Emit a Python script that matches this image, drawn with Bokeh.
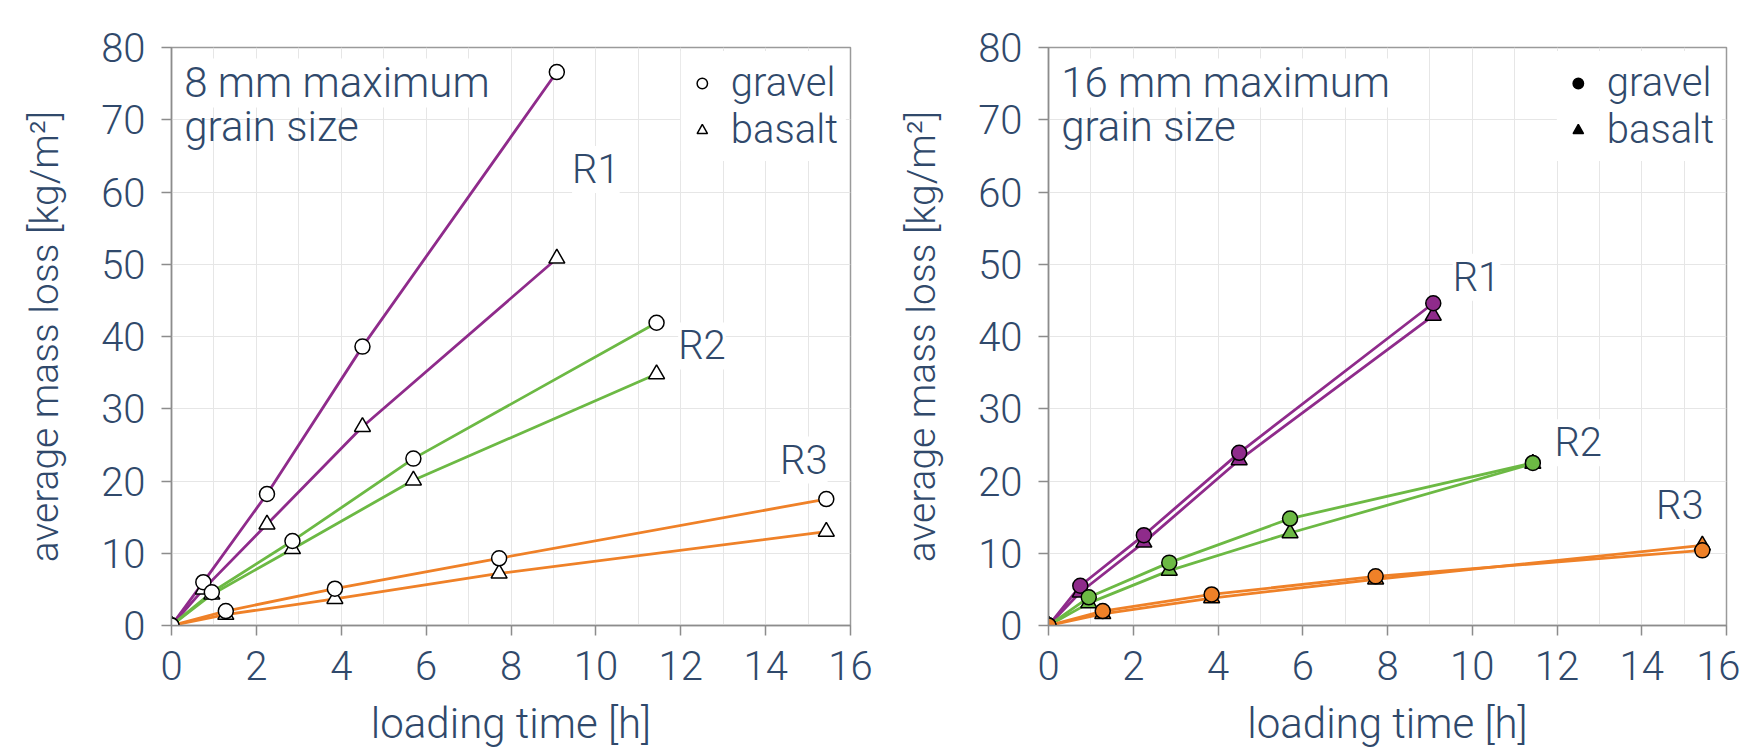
from bokeh.plotting import figure
from bokeh.layouts import row
from bokeh.models import Label, FixedTicker, Range1d, Legend, LegendItem
from bokeh.embed import file_html
from bokeh.resources import INLINE

# ---------------- data ----------------
# loading time [h] per test series
t_R1 = [0, 0.75, 2.25, 4.5, 9.08]
t_R2 = [0, 0.95, 2.85, 5.7, 11.43]
t_R3 = [0, 1.28, 3.85, 7.72, 15.43]

# 8 mm maximum grain size: average mass loss [kg/m2]
g8_R1 = [0, 6.0, 18.2, 38.6, 76.6]
b8_R1 = [0, 5.0, 14.0, 27.5, 50.8]
g8_R2 = [0, 4.6, 11.7, 23.1, 41.9]
b8_R2 = [0, 4.3, 10.6, 20.1, 34.8]
g8_R3 = [0, 2.0, 5.1, 9.3, 17.5]
b8_R3 = [0, 1.5, 3.7, 7.2, 13.0]

# 16 mm maximum grain size
g16_R1 = [0, 5.5, 12.5, 23.9, 44.6]
b16_R1 = [0, 4.6, 11.5, 22.9, 42.9]
g16_R2 = [0, 3.9, 8.7, 14.8, 22.5]
b16_R2 = [0, 3.1, 7.6, 12.8, 22.4]
g16_R3 = [0, 2.0, 4.3, 6.8, 10.4]
b16_R3 = [0, 1.6, 3.8, 6.4, 11.1]

series_names = ["R1", "R2", "R3"]
x_ticks = [0, 2, 4, 6, 8, 10, 12, 14, 16]
y_ticks = [0, 10, 20, 30, 40, 50, 60, 70, 80]

# label positions (data units)
r_label_pos_8 = {"R1": (10.0, 63.1), "R2": (12.5, 38.7), "R3": (14.9, 22.9)}
r_label_pos_16 = {"R1": (10.1, 48.2), "R2": (12.5, 25.3), "R3": (14.9, 16.6)}

# ---------------- style ----------------
FONT = "Roboto Light"
TXT = "#30496b"
COLORS = {"R1": "#8f2b8b", "R2": "#6cb944", "R3": "#ef8128"}
AX = "#8c8c8c"
FS = "40px"
NAN = float("nan")


def make_fig(width, min_left, min_right, times, gravel, basalt, filled, title1, title2, rpos):
    p = figure(width=width, height=752, output_backend="svg", toolbar_location=None,
               x_range=Range1d(0, 16), y_range=Range1d(0, 80),
               min_border_left=min_left, min_border_right=min_right,
               min_border_top=47, min_border_bottom=127)
    p.background_fill_color = "white"
    p.border_fill_color = "white"
    p.outline_line_color = "#9a9a9a"
    p.outline_line_width = 1.5

    p.xaxis.ticker = FixedTicker(ticks=x_ticks)
    p.yaxis.ticker = FixedTicker(ticks=y_ticks)
    p.xgrid.ticker = FixedTicker(ticks=list(range(0, 17)))
    for g in (p.xgrid, p.ygrid):
        g.grid_line_color = "#e6e6e6"
        g.grid_line_width = 1
    for ax in (p.xaxis, p.yaxis):
        ax.axis_line_color = AX
        ax.axis_line_width = 1.5
        ax.major_tick_line_color = AX
        ax.major_tick_line_width = 1.5
        ax.major_tick_in = 0
        ax.major_tick_out = 10
        ax.minor_tick_line_color = None
        ax.major_label_text_font = FONT
        ax.major_label_text_font_size = FS
        ax.major_label_text_color = TXT
        ax.axis_label_text_font = FONT
        ax.axis_label_text_color = TXT
        ax.axis_label_text_font_style = "normal"
    p.xaxis.axis_label = "loading time [h]"
    p.yaxis.axis_label = "average mass loss [kg/m²]"
    p.xaxis.axis_label_text_font_size = "42px"
    p.yaxis.axis_label_text_font_size = "39px"
    p.xaxis.major_label_standoff = 15
    p.xaxis.axis_label_standoff = 16
    p.yaxis.major_label_standoff = 16
    p.yaxis.axis_label_standoff = 30

    # lines first
    for name in series_names:
        p.line(times[name], gravel[name], line_color=COLORS[name], line_width=2.8)
        p.line(times[name], basalt[name], line_color=COLORS[name], line_width=2.8)
    # markers
    for name in series_names:
        fc = COLORS[name] if filled else "white"
        p.scatter(times[name], basalt[name], marker="triangle", size=16,
                  fill_color=fc, line_color="black", line_width=1.5)
        p.scatter(times[name], gravel[name], marker="circle", size=15,
                  fill_color=fc, line_color="black", line_width=1.5)

    # series labels
    for name in series_names:
        x, y = rpos[name]
        p.add_layout(Label(x=x, y=y, text=name, text_font=FONT, text_font_size="40px",
                           text_color=TXT, text_align="center", text_baseline="middle",
                           background_fill_color="white", background_fill_alpha=1.0))

    # title annotation
    p.add_layout(Label(x=0.3, y=75.1, text=title1, text_font=FONT, text_font_size="42px",
                       text_color=TXT, text_align="left", text_baseline="middle",
                       background_fill_color="white"))
    p.add_layout(Label(x=0.3, y=69.0, text=title2, text_font=FONT, text_font_size="42px",
                       text_color=TXT, text_align="left", text_baseline="middle"))

    # legend (marker key) via proxy renderers without visible data
    lf = "black" if filled else "white"
    rc = p.scatter([NAN], [NAN], marker="circle", fill_color=lf, line_color="black", line_width=1.5)
    rt = p.scatter([NAN], [NAN], marker="triangle", fill_color=lf, line_color="black", line_width=1.5)
    leg = Legend(items=[LegendItem(label="gravel", renderers=[rc], index=0),
                        LegendItem(label="basalt", renderers=[rt], index=0)],
                 location="top_right", margin=4, padding=8, spacing=-11,
                 glyph_width=26, glyph_height=26, label_standoff=16,
                 label_text_font=FONT, label_text_font_size=FS, label_text_color=TXT,
                 border_line_alpha=0, background_fill_color="white", background_fill_alpha=1.0)
    p.add_layout(leg)
    return p


times = {"R1": t_R1, "R2": t_R2, "R3": t_R3}
p1 = make_fig(885, 171, 35, times,
              {"R1": g8_R1, "R2": g8_R2, "R3": g8_R3},
              {"R1": b8_R1, "R2": b8_R2, "R3": b8_R3},
              False, "8 mm maximum", "grain size", r_label_pos_8)
p2 = make_fig(855, 163, 14, times,
              {"R1": g16_R1, "R2": g16_R2, "R3": g16_R3},
              {"R1": b16_R1, "R2": b16_R2, "R3": b16_R3},
              True, "16 mm maximum", "grain size", r_label_pos_16)

layout = row(p1, p2)
open("out.html", "w").write(file_html(layout, INLINE))
